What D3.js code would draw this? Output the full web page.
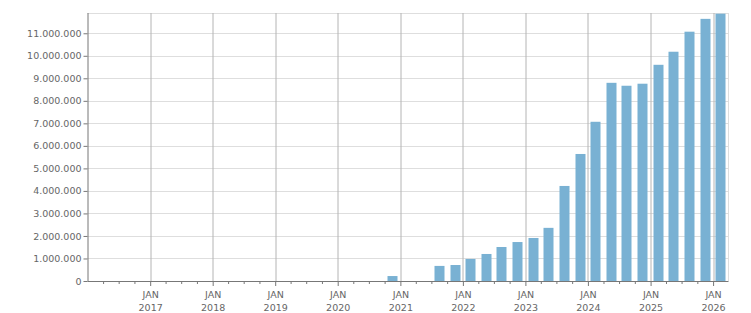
<!DOCTYPE html>
<html>
<head>
<meta charset="utf-8">
<script src="https://cdn.jsdelivr.net/npm/d3@7"></script>
<style>
  html, body { margin: 0; padding: 0; background: #fff; }
  svg text { font-family: "DejaVu Sans", Verdana, sans-serif; font-size: 9.5px; fill: #666; }
</style>
</head>
<body>
<div id="chart"></div>
<script>
// quarterly values, one bar per quarter
const quarterStarts = [
  "2020-10-01", "2021-01-01", "2021-04-01", "2021-07-01", "2021-10-01",
  "2022-01-01", "2022-04-01", "2022-07-01", "2022-10-01",
  "2023-01-01", "2023-04-01", "2023-07-01", "2023-10-01",
  "2024-01-01", "2024-04-01", "2024-07-01", "2024-10-01",
  "2025-01-01", "2025-04-01", "2025-07-01", "2025-10-01",
  "2026-01-01"
];
const values = [
  220000, 0, 0, 670000, 710000,
  980000, 1200000, 1510000, 1730000,
  1910000, 2360000, 4220000, 5640000,
  7070000, 8800000, 8670000, 8760000,
  9600000, 10180000, 11070000, 11640000,
  11870000
];
const yTicks = [0, 1000000, 2000000, 3000000, 4000000, 5000000, 6000000,
  7000000, 8000000, 9000000, 10000000, 11000000];
const xDomain = ["2016-01-01", "2026-04-01"];
const yMax = 11900000;

const parse = d3.utcParse("%Y-%m-%d");
const data = quarterStarts.map((q, i) => ({ start: parse(q), value: values[i] }));

const width = 751, height = 313;
const margin = { top: 13, right: 22.5, bottom: 32, left: 87.5 };
const graphWidth = width - margin.left - margin.right;
const graphHeight = height - margin.top - margin.bottom;

const svg = d3.select('#chart')
  .append('svg')
  .attr('width', width)
  .attr('height', height);

const graph = svg.append('g')
  .attr('transform', `translate(${margin.left}, ${margin.top})`);

//Scales
const x = d3.scaleUtc()
  .domain(xDomain.map(parse))
  .range([0, graphWidth]);

const y = d3.scaleLinear()
  .domain([0, yMax])
  .range([graphHeight, 0]);

const fmt = d => d3.format(",")(d).replace(/,/g, ".");

// horizontal grid
graph.append('g')
  .selectAll('line')
  .data(yTicks.slice(1))
  .enter().append('line')
  .attr('x1', 0).attr('x2', graphWidth)
  .attr('y1', d => Math.round(y(d)) + 0.5)
  .attr('y2', d => Math.round(y(d)) + 0.5)
  .attr('stroke', '#dedede');

// top + right frame
graph.append('line')
  .attr('x1', 0).attr('x2', graphWidth).attr('y1', 0.5).attr('y2', 0.5)
  .attr('stroke', '#dedede');
graph.append('line')
  .attr('x1', graphWidth).attr('x2', graphWidth).attr('y1', 0).attr('y2', graphHeight)
  .attr('stroke', '#dedede');

// vertical grid at each January
const years = d3.utcYear.range(x.domain()[0], x.domain()[1]).filter(d => x(d) > 1);
graph.append('g')
  .selectAll('line')
  .data(years)
  .enter().append('line')
  .attr('x1', d => Math.round(x(d)) + 0.5)
  .attr('x2', d => Math.round(x(d)) + 0.5)
  .attr('y1', 0).attr('y2', graphHeight)
  .attr('stroke', '#b4b4b4');

// bars
const barW = 10;
graph.selectAll('rect')
  .data(data)
  .enter().append('rect')
  .attr('x', d => {
    const mid = (x(d.start) + x(d3.utcMonth.offset(d.start, 3))) / 2;
    return Math.round(mid - barW / 2);
  })
  .attr('width', barW)
  .attr('y', d => y(d.value))
  .attr('height', d => graphHeight - y(d.value))
  .attr('fill', '#79b1d3');

// y axis
const yAxis = d3.axisLeft(y)
  .tickValues(yTicks)
  .tickFormat(fmt)
  .tickSize(4)
  .tickPadding(2);

const yAxisGroup = graph.append('g').call(yAxis);
yAxisGroup.select('.domain').attr('stroke', '#777').attr('d', `M0.5,0V${graphHeight}`);
yAxisGroup.selectAll('.tick line').attr('stroke', '#777');
yAxisGroup.selectAll('text').style('fill', '#666');

// x axis: quarterly minor ticks, JAN major ticks with labels
const quarters = d3.utcMonth.every(3).range(x.domain()[0], x.domain()[1]).filter(d => x(d) > 1);
const xAxis = d3.axisBottom(x)
  .tickValues(quarters)
  .tickSize(3)
  .tickFormat('');

const xAxisGroup = graph.append('g')
  .attr('transform', `translate(0, ${graphHeight})`)
  .call(xAxis);
xAxisGroup.select('.domain').attr('stroke', '#777').attr('d', `M0,0.5H${graphWidth}`);
xAxisGroup.selectAll('.tick line')
  .attr('stroke', '#777')
  .attr('y2', d => d.getUTCMonth() === 0 ? 5 : 3);

const labels = graph.append('g')
  .attr('transform', `translate(0, ${graphHeight})`)
  .selectAll('text')
  .data(years)
  .enter().append('text')
  .attr('text-anchor', 'middle')
  .attr('x', d => x(d) + 0.5);
labels.append('tspan').attr('x', d => x(d) + 0.5).attr('y', 17).text('JAN');
labels.append('tspan').attr('x', d => x(d) + 0.5).attr('y', 29.5).text(d => d.getUTCFullYear());
</script>
</body>
</html>
